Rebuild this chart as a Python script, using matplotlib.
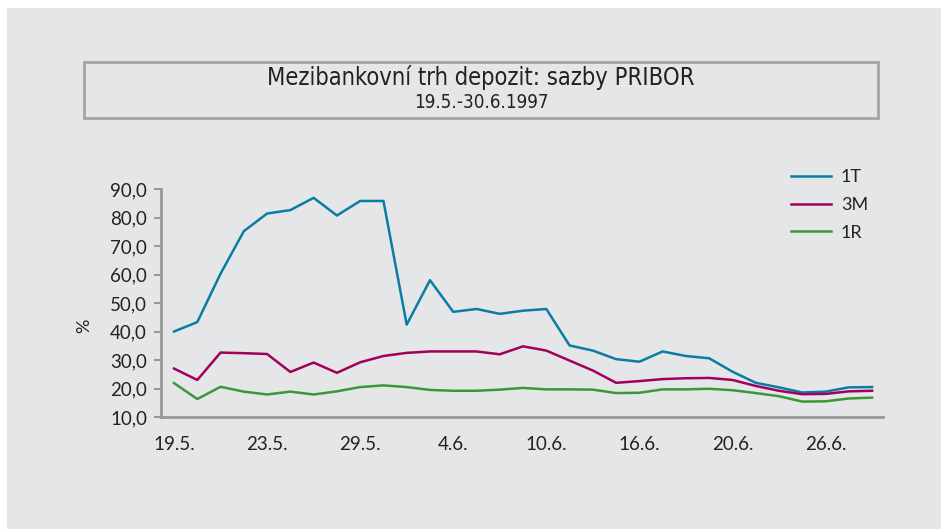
import matplotlib
matplotlib.use("Agg")
import matplotlib.pyplot as plt
from matplotlib.patches import Rectangle

# PRIBOR rates 19.5.-30.6.1997 (trading days)
days = ["19.5.", "20.5.", "21.5.", "22.5.", "23.5.", "26.5.", "27.5.", "28.5.",
        "29.5.", "30.5.", "2.6.", "3.6.", "4.6.", "5.6.", "6.6.", "9.6.",
        "10.6.", "11.6.", "12.6.", "13.6.", "16.6.", "17.6.", "18.6.", "19.6.",
        "20.6.", "23.6.", "24.6.", "25.6.", "26.6.", "27.6.", "30.6."]
rate_1t = [40.0, 43.3, 60.3, 75.2, 81.4, 82.6, 86.9, 80.7, 85.8, 85.8, 42.4,
           58.0, 46.9, 47.9, 46.2, 47.3, 47.9, 35.1, 33.3, 30.3, 29.4, 33.0,
           31.4, 30.6, 25.9, 22.0, 20.4, 18.6, 18.9, 20.4, 20.5]
rate_3m = [27.0, 23.0, 32.6, 32.4, 32.1, 25.8, 29.1, 25.5, 29.2, 31.4, 32.5,
           33.0, 33.0, 33.0, 32.0, 34.8, 33.3, 29.8, 26.3, 22.0, 22.6, 23.3,
           23.6, 23.7, 23.0, 20.9, 19.2, 18.0, 18.1, 19.0, 19.2]
rate_1r = [21.9, 16.3, 20.6, 18.9, 17.9, 18.9, 17.9, 19.0, 20.5, 21.1, 20.5,
           19.5, 19.2, 19.2, 19.6, 20.2, 19.7, 19.7, 19.6, 18.4, 18.5, 19.7,
           19.7, 19.9, 19.4, 18.4, 17.3, 15.4, 15.5, 16.5, 16.8]
series_names = ["1T", "3M", "1R"]
colors = ["#0a7ca6", "#a1005c", "#3a983a"]
yticks = [10, 20, 30, 40, 50, 60, 70, 80, 90]

W, H = 941, 529
bg = "#e5e6e8"
fig = plt.figure(figsize=(W / 100, H / 100), dpi=100, facecolor="white")

# gray panel
fig.patches.append(Rectangle((7 / W, 0), 1 - 7 / W, 1 - 8 / H, transform=fig.transFigure,
                             facecolor=bg, edgecolor="none", zorder=-2))
# title box
fig.patches.append(Rectangle((84 / W, 1 - 118 / H), (878 - 84) / W, (118 - 62) / H,
                             transform=fig.transFigure, facecolor=bg,
                             edgecolor="#a4a4a4", linewidth=2, zorder=-1))
fig.text(481 / W, 1 - 78 / H, "Mezibankovní trh depozit: sazby PRIBOR",
         ha="center", va="center", fontsize=17, color="#222222",
         family="DejaVu Sans", stretch="condensed")
fig.text(481 / W, 1 - 102 / H, "19.5.-30.6.1997", ha="center", va="center",
         fontsize=13.5, color="#222222", family="DejaVu Sans", stretch="condensed")

ax = fig.add_axes([161 / W, 1 - 417 / H, (883 - 161) / W, (417 - 189) / H])
ax.set_facecolor("none")
ax.set_zorder(2)

x = list(range(len(days)))
for name, vals, c in zip(series_names, [rate_1t, rate_3m, rate_1r], colors):
    ax.plot(x, vals, color=c, linewidth=1.8, label=name)

ax.set_xlim(-0.56, 30.47)
ax.set_ylim(10, 90)
ax.set_yticks(yticks)
ax.set_yticklabels([f"{v:.1f}".replace(".", ",") for v in yticks],
                   fontsize=13.5, family="Lato", color="#222222")
ax.set_xticks(x[::4])
ax.set_xticklabels(days[::4], fontsize=13.5, family="Lato", color="#222222")
ax.tick_params(axis="y", length=5, width=1.5, color="#999999", pad=5)
ax.tick_params(axis="x", length=0, pad=14)
for s in ["top", "right"]:
    ax.spines[s].set_visible(False)
for s in ["left", "bottom"]:
    ax.spines[s].set_color("#999999")
    ax.spines[s].set_linewidth(2)
ax.set_ylabel("%", fontsize=13, family="Lato", color="#222222", labelpad=13)
ax.yaxis.label.set_y(0.40)

leg = fig.legend(loc="upper left", bbox_to_anchor=(775 / W, 1 - 153 / H),
                 frameon=False, prop={"family": "Lato", "size": 13},
                 handlelength=2.2, handletextpad=0.55, labelspacing=0.65)
for t in leg.get_texts():
    t.set_color("#222222")

fig.savefig("out.png", dpi=100, facecolor=fig.get_facecolor())
